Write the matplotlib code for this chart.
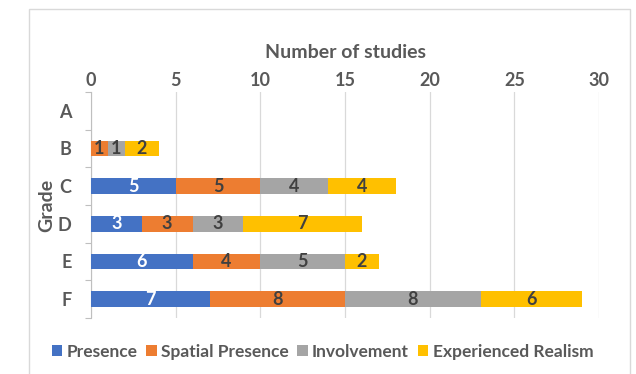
#!/usr/bin/env python3
"""Stacked horizontal bars: number of studies per grade."""
import matplotlib
matplotlib.use("Agg")
import matplotlib.pyplot as plt
import numpy as np

grades = ["A", "B", "C", "D", "E", "F"]
series_names = ["Presence", "Spatial Presence", "Involvement", "Experienced Realism"]
presence = [0, 0, 5, 3, 6, 7]
spatial_presence = [0, 1, 5, 3, 4, 8]
involvement = [0, 1, 4, 3, 5, 8]
experienced_realism = [0, 2, 4, 7, 2, 6]

COLORS = ["#4472c4", "#ed7d31", "#a5a5a5", "#ffc000"]
LABEL_COLORS = ["white", "#404040", "#404040", "#404040"]
TEXT = "#595959"

plt.rcParams["font.family"] = ["Lato", "DejaVu Sans"]


def main() -> None:
    series = [presence, spatial_presence, involvement, experienced_realism]
    y = np.arange(len(grades))

    fig = plt.figure(figsize=(6.36, 3.74), dpi=100)
    ax = fig.add_axes([0.143, 0.150, 0.799, 0.604])

    left = np.zeros(len(grades))
    for name, vals, col, lcol in zip(series_names, series, COLORS, LABEL_COLORS):
        vals = np.array(vals, dtype=float)
        bars = ax.barh(y, vals, left=left, height=0.42, color=col, label=name, zorder=3)
        labels = [f"{int(v)}" if v > 0 else "" for v in vals]
        ax.bar_label(bars, labels=labels, label_type="center", color=lcol,
                     fontsize=13, fontweight="bold")
        left += vals

    ax.set_xlim(0, 30)
    ax.set_ylim(len(grades) - 0.5, -0.5)
    ax.xaxis.tick_top()
    ax.xaxis.set_label_position("top")
    ax.set_xticks(range(0, 31, 5))
    ax.grid(axis="x", color="#d9d9d9", linewidth=0.9, zorder=0)
    ax.tick_params(axis="x", length=0, labelsize=13, labelcolor=TEXT, pad=2)
    for t in ax.get_xticklabels():
        t.set_fontweight("bold")

    # category labels at centres, tick marks between categories
    ax.set_yticks(np.arange(-0.5, len(grades), 1.0))
    ax.set_yticklabels([])
    ax.tick_params(axis="y", which="major", length=4, color="#bfbfbf")
    ax.set_yticks(y, minor=True)
    ax.set_yticklabels(grades, minor=True, fontsize=13, fontweight="bold", color=TEXT)
    ax.tick_params(axis="y", which="minor", length=0, pad=14)

    ax.set_xlabel("Number of studies", fontsize=14, fontweight="bold", color=TEXT, labelpad=10)
    ax.set_ylabel("Grade", fontsize=14, fontweight="bold", color=TEXT, labelpad=2)

    for side in ["top", "right", "bottom"]:
        ax.spines[side].set_visible(False)
    ax.spines["left"].set_color("#bfbfbf")

    leg = fig.legend(loc="center", bbox_to_anchor=(0.507, 0.06), ncol=4, frameon=False,
                     handlelength=0.6, handleheight=0.6, handletextpad=0.25,
                     columnspacing=0.5, prop={"size": 12.5, "weight": "bold"})
    for t in leg.get_texts():
        t.set_color(TEXT)

    fig.patches.append(plt.Rectangle((0.045, -0.01), 0.945, 0.985, transform=fig.transFigure,
                                     fill=False, edgecolor="#d9d9d9", linewidth=1))

    fig.savefig("out.png", dpi=100)
    plt.close(fig)


if __name__ == "__main__":
    main()
